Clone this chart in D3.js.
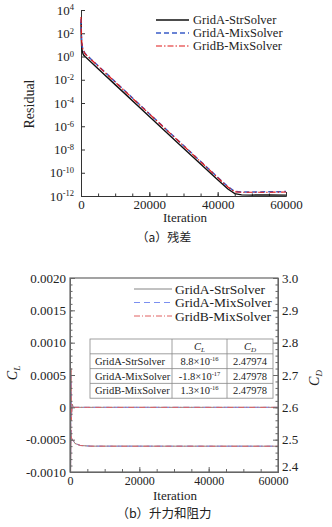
<!DOCTYPE html>
<html>
<head>
<meta charset="utf-8">
<script src="https://cdn.jsdelivr.net/npm/d3@7"></script>
<style>
body { margin: 0; background: #fff; }
text { font-family: "Liberation Serif", "Times New Roman", serif; fill: #222; }
.cjk { font-family: "Noto Sans CJK SC", sans-serif; }
</style>
</head>
<body>
<svg width="332" height="527"></svg>
<script>
// ---- data ----
const seriesNames = ["GridA-StrSolver", "GridA-MixSolver", "GridB-MixSolver"];

// (a) residual history
const resIter = [0, 100, 200, 400, 700, 1200, 5000, 10000, 20000, 30000, 40000, 43000, 45000, 47000, 50000, 55000, 60000];
const resStrA = [1000, 32, 6.3, 2.5, 1.4, 1.0, 8.9e-2, 3.8e-3, 6.9e-6, 1.3e-8, 2.5e-11, 4e-12, 1.6e-12, 1.26e-12, 1.2e-12, 1.26e-12, 1.2e-12];
const resMixA = [1600, 100, 20, 6.3, 3.2, 1.8, 0.16, 6.8e-3, 1.2e-5, 2.2e-8, 4.1e-11, 6.3e-12, 2.5e-12, 2.2e-12, 2.2e-12, 2.3e-12, 2.4e-12];
const resMixB = [2500, 160, 20, 6.3, 3.2, 1.7, 0.15, 6.3e-3, 1.15e-5, 2.1e-8, 3.8e-11, 5.9e-12, 2.3e-12, 2.1e-12, 2.1e-12, 2.1e-12, 2.2e-12];
const resTicks = [1e4, 1e2, 1e0, 1e-2, 1e-4, 1e-6, 1e-8, 1e-10, 1e-12];
const iterTicks = [0, 20000, 40000, 60000];

// (b) lift and drag history
const clIter = [0, 40, 80, 150, 250, 400, 600, 1000, 2000, 5000, 60000];
const clStrA = [0.004, -0.003, 0.0025, -0.0012, 0.0006, -0.0002, 0.00005, 0, 0, 0, 0];
const clMixA = [0.0038, -0.0028, 0.0024, -0.0011, 0.0005, -0.00015, 0.00004, 0, 0, 0, 0];
const clMixB = [0.0042, -0.0031, 0.0026, -0.0013, 0.0006, -0.0002, 0.00005, 0, 0, 0, 0];
const cdIter = [0, 40, 80, 150, 250, 400, 700, 1500, 3000, 6000, 60000];
const cdStrA = [3.3, 2.1, 2.8, 2.4, 2.53, 2.505, 2.5, 2.488, 2.482, 2.4799, 2.47974];
const cdMixA = [3.3, 2.12, 2.78, 2.41, 2.53, 2.505, 2.5, 2.488, 2.482, 2.4799, 2.47978];
const cdMixB = [3.3, 2.1, 2.8, 2.4, 2.53, 2.505, 2.5, 2.488, 2.482, 2.4799, 2.47978];
const clTicks = [-0.001, -0.0005, 0, 0.0005, 0.001, 0.0015, 0.002];
const cdTicks = [2.4, 2.5, 2.6, 2.7, 2.8, 2.9, 3.0];

// table
const clMant = ["8.8", "-1.8", "1.3"];
const clExp = ["-16", "-17", "-16"];
const cdVals = ["2.47974", "2.47978", "2.47978"];

const svg = d3.select("svg");

// ================= panel (a) =================
const xA = d3.scaleLinear().domain([0, 60000]).range([81, 286]);
const yA = d3.scaleLog().domain([1e-12, 1e4]).range([196, 10]);
const gA = svg.append("g");

const styleA = [
  {color: "#111", dash: null, w: 1.4},
  {color: "#3a5cc8", dash: "5,3", w: 1.5},
  {color: "#e01818", dash: "6,2,1.5,2", w: 1.2}
];

// axes
const axA_x = gA.append("g").attr("transform", "translate(0,196)")
  .call(d3.axisBottom(xA).tickValues(iterTicks).tickSize(-4).tickPadding(4).tickFormat(d3.format("d")));
gA.append("g").attr("transform", "translate(0,196)")
  .call(d3.axisBottom(xA).tickValues(d3.range(5000, 60000, 5000)).tickSize(-2.5).tickFormat(""))
  .select(".domain").remove();
const axA_y = gA.append("g").attr("transform", "translate(81,0)")
  .call(d3.axisLeft(yA).tickValues(resTicks).tickSize(-4).tickPadding(5).tickFormat(""));
gA.selectAll(".domain").attr("stroke", "#333");
gA.selectAll(".tick line").attr("stroke", "#333");
axA_x.selectAll("text").attr("font-size", 13).attr("fill", "#222");
axA_y.selectAll(".tick").each(function(d) {
  const t = d3.select(this).append("text").attr("x", -7).attr("dy", "0.32em")
    .attr("text-anchor", "end").attr("font-size", 13).attr("fill", "#222");
  t.append("tspan").text("10");
  t.append("tspan").attr("dy", "-0.5em").attr("font-size", 8.5).text(Math.round(Math.log10(d)));
});

const lineA = d3.line().x((d, i) => xA(resIter[i])).y(d => yA(d));
[resStrA, resMixA, resMixB].forEach((s, k) => {
  gA.append("path").datum(s).attr("d", lineA).attr("fill", "none")
    .attr("stroke", styleA[k].color).attr("stroke-width", styleA[k].w)
    .attr("stroke-dasharray", styleA[k].dash);
});

gA.append("text").attr("transform", "translate(34,104) rotate(-90)")
  .attr("text-anchor", "middle").attr("font-size", 14).text("Residual");
gA.append("text").attr("x", 185).attr("y", 222).attr("text-anchor", "middle")
  .attr("font-size", 13).text("Iteration");
gA.append("text").attr("class", "cjk").attr("x", 164).attr("y", 242).attr("text-anchor", "middle")
  .attr("font-size", 12).text("（a）残差");

// legend (a)
seriesNames.forEach((n, k) => {
  const y = 20 + k * 13;
  gA.append("line").attr("x1", 156).attr("x2", 189).attr("y1", y).attr("y2", y)
    .attr("stroke", styleA[k].color).attr("stroke-width", styleA[k].w)
    .attr("stroke-dasharray", styleA[k].dash);
  gA.append("text").attr("x", 193).attr("y", y).attr("dy", "0.35em")
    .attr("font-size", 12.5).text(n);
});

// ================= panel (b) =================
const xB = d3.scaleLinear().domain([0, 60000]).range([70, 278]);
const yL = d3.scaleLinear().domain([-0.001, 0.002]).range([472, 278]);
const yR = d3.scaleLinear().domain([2.4, 3.0]).range([472, 278]);
const gB = svg.append("g");

const styleB = [
  {color: "#777", dash: null, w: 0.9},
  {color: "#7b8ff0", dash: "6,4", w: 1},
  {color: "#e06060", dash: "6,2,1,2", w: 1}
];

gB.append("clipPath").attr("id", "clipB").append("rect")
  .attr("x", 70).attr("y", 278).attr("width", 208).attr("height", 194);

const lineCL = d3.line().x((d, i) => xB(clIter[i])).y(d => yL(d));
const lineCD = d3.line().x((d, i) => xB(cdIter[i])).y(d => yR(d));
const curves = gB.append("g").attr("clip-path", "url(#clipB)");
[[clStrA, cdStrA], [clMixA, cdMixA], [clMixB, cdMixB]].forEach((p, k) => {
  curves.append("path").datum(p[0]).attr("d", lineCL).attr("fill", "none")
    .attr("stroke", styleB[k].color).attr("stroke-width", styleB[k].w)
    .attr("stroke-dasharray", styleB[k].dash);
  curves.append("path").datum(p[1]).attr("d", lineCD).attr("fill", "none")
    .attr("stroke", styleB[k].color).attr("stroke-width", styleB[k].w)
    .attr("stroke-dasharray", styleB[k].dash);
});

// frame
gB.append("rect").attr("x", 70).attr("y", 278).attr("width", 208).attr("height", 194)
  .attr("fill", "none").attr("stroke", "#666").attr("stroke-width", 1.2);

const axB_x = gB.append("g").attr("transform", "translate(0,472)")
  .call(d3.axisBottom(xB).tickValues(iterTicks).tickSize(-5).tickPadding(4).tickFormat(d3.format("d")));
gB.append("g").attr("transform", "translate(0,472)")
  .call(d3.axisBottom(xB).tickValues(d3.range(5000, 60000, 5000)).tickSize(-3).tickFormat(""));
const axB_l = gB.append("g").attr("transform", "translate(70,0)")
  .call(d3.axisLeft(yL).tickValues(clTicks).tickSize(-5).tickPadding(4)
    .tickFormat(d => d === 0 ? "0" : d3.format(".4f")(d).replace("−", "-")));
gB.append("g").attr("transform", "translate(70,0)")
  .call(d3.axisLeft(yL).tickValues(d3.range(-10, 21).map(v => v * 0.0001)).tickSize(-2.5).tickFormat(""));
const axB_r = gB.append("g").attr("transform", "translate(278,0)")
  .call(d3.axisRight(yR).tickValues(cdTicks).tickSize(-5).tickPadding(4).tickFormat(d3.format(".1f")));
gB.append("g").attr("transform", "translate(278,0)")
  .call(d3.axisRight(yR).tickValues(d3.range(120, 151).map(v => v * 0.02)).tickSize(-2.5).tickFormat(""));
gB.selectAll(".domain").attr("stroke", "#666");
gB.selectAll(".tick line").attr("stroke", "#666");
gB.selectAll(".tick text").attr("font-size", 13).attr("fill", "#222");
axB_x.selectAll("text").attr("font-size", 12).attr("dx", (d, i) => i === 3 ? "-5" : null);
axB_r.selectAll("text").attr("dy", (d, i) => i === 0 ? "-0.1em" : "0.32em");

// axis titles
const cl = gB.append("text").attr("transform", "translate(17,373) rotate(-90)")
  .attr("text-anchor", "middle").attr("font-size", 14);
cl.append("tspan").attr("font-style", "italic").text("C");
cl.append("tspan").attr("dy", 3).attr("font-size", 9).attr("font-style", "italic").text("L");
const cd = gB.append("text").attr("transform", "translate(319,378) rotate(-90)")
  .attr("text-anchor", "middle").attr("font-size", 14);
cd.append("tspan").attr("font-style", "italic").text("C");
cd.append("tspan").attr("dy", 3).attr("font-size", 9).attr("font-style", "italic").text("D");
gB.append("text").attr("x", 175).attr("y", 500).attr("text-anchor", "middle")
  .attr("font-size", 13).text("Iteration");
gB.append("text").attr("class", "cjk").attr("x", 164).attr("y", 518).attr("text-anchor", "middle")
  .attr("font-size", 12.5).text("（b）升力和阻力");

// legend (b)
seriesNames.forEach((n, k) => {
  const y = 289 + k * 13.5;
  gB.append("line").attr("x1", 134).attr("x2", 172).attr("y1", y).attr("y2", y)
    .attr("stroke", styleB[k].color).attr("stroke-width", styleB[k].w)
    .attr("stroke-dasharray", styleB[k].dash);
  gB.append("text").attr("x", 175).attr("y", y).attr("dy", "0.35em")
    .attr("font-size", 13.5).text(n);
});

// table
const colX = [90, 172, 227, 273];
const rowY = d3.range(5).map(i => 339 + i * 14.8);
const tbl = gB.append("g");
tbl.append("rect").attr("x", colX[0]).attr("y", rowY[0]).attr("width", colX[3] - colX[0])
  .attr("height", rowY[4] - rowY[0]).attr("fill", "#fff").attr("stroke", "#888").attr("stroke-width", 0.8);
rowY.slice(1, 4).forEach(y => tbl.append("line").attr("x1", colX[0]).attr("x2", colX[3])
  .attr("y1", y).attr("y2", y).attr("stroke", "#888").attr("stroke-width", 0.8));
colX.slice(1, 3).forEach(x => tbl.append("line").attr("x1", x).attr("x2", x)
  .attr("y1", rowY[0]).attr("y2", rowY[4]).attr("stroke", "#888").attr("stroke-width", 0.8));
[["C", "L"], ["C", "D"]].forEach((h, j) => {
  const t = tbl.append("text").attr("x", (colX[j + 1] + colX[j + 2]) / 2).attr("y", (rowY[0] + rowY[1]) / 2)
    .attr("dy", "0.32em").attr("text-anchor", "middle").attr("font-size", 10.5).attr("font-style", "italic");
  t.append("tspan").text(h[0]);
  t.append("tspan").attr("dy", 2).attr("font-size", 7).text(h[1]);
});
seriesNames.forEach((n, i) => {
  const yc = (rowY[i + 1] + rowY[i + 2]) / 2;
  tbl.append("text").attr("x", colX[0] + 5).attr("y", yc).attr("dy", "0.35em")
    .attr("font-size", 10.5).text(n);
  const t = tbl.append("text").attr("x", (colX[1] + colX[2]) / 2).attr("y", yc).attr("dy", "0.35em")
    .attr("text-anchor", "middle").attr("font-size", 10.5);
  t.append("tspan").text(clMant[i] + "×10");
  t.append("tspan").attr("dy", -4).attr("font-size", 6.5).text(clExp[i]);
  tbl.append("text").attr("x", (colX[2] + colX[3]) / 2).attr("y", yc).attr("dy", "0.35em")
    .attr("text-anchor", "middle").attr("font-size", 10.5).text(cdVals[i]);
});
</script>
</body>
</html>
